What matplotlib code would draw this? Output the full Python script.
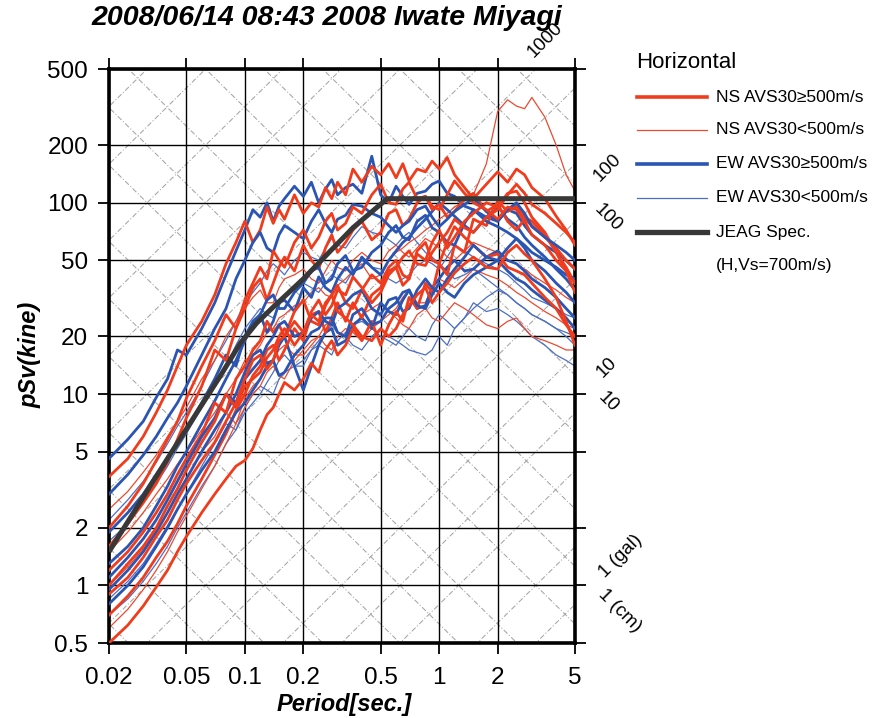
import numpy as np
import matplotlib.pyplot as plt
from matplotlib.lines import Line2D
from matplotlib.ticker import FixedLocator, FixedFormatter, NullLocator

plt.rcParams['font.family'] = ['Liberation Sans', 'DejaVu Sans']

W, H = 893, 718

# periods [sec] shared by all spectra
periods = [0.02, 0.025, 0.03, 0.035, 0.04, 0.045, 0.05, 0.06, 0.07, 0.08, 0.09,
           0.1, 0.11, 0.12, 0.13, 0.14, 0.15, 0.16, 0.18, 0.2, 0.22,
           0.24, 0.26, 0.28, 0.3, 0.33, 0.36, 0.4, 0.45, 0.5, 0.55,
           0.6, 0.65, 0.7, 0.77, 0.85, 0.92, 1.0, 1.1, 1.2, 1.35,
           1.5, 1.75, 2.0, 2.25, 2.5, 2.75, 3.0, 3.5, 4.0, 4.5, 5.0]

# NS, AVS30 >= 500 m/s (thick red), pSv [kine]
ns_hard = [
    [3.7, 4.6, 6.0, 8.0, 10.5, 14, 18, 24, 33, 48, 62,
     80, 62, 72, 95, 78, 92, 82, 110, 88, 100, 95, 120, 105, 128, 110,
     150, 128, 155, 140, 160, 135, 160, 130, 150, 145, 165, 150, 172, 140, 120,
     105, 125, 145, 128, 150, 140, 120, 105, 85, 72, 60],
    [1.6, 2.1, 2.7, 3.4, 4.4, 5.8, 7.5, 11, 17, 15, 22,
     28, 36, 40, 31, 38, 46, 52, 44, 60, 50, 45, 58, 68, 55, 62,
     72, 80, 64, 70, 88, 92, 76, 82, 100, 108, 92, 98, 84, 90, 105,
     112, 90, 98, 80, 72, 82, 76, 66, 58, 50, 45],
    [0.5, 0.62, 0.78, 0.98, 1.2, 1.5, 1.8, 2.4, 3.0, 3.6, 4.2,
     4.5, 5.2, 6.5, 7.8, 8.5, 10, 11.5, 10.5, 12, 14.5, 13, 17, 19, 16, 18,
     22, 19, 24, 18, 23, 27, 24, 32, 28, 38, 34, 48, 42, 60, 55,
     82, 76, 102, 90, 96, 84, 80, 68, 55, 46, 38],
    [0.7, 0.88, 1.1, 1.4, 1.7, 2.1, 2.6, 3.6, 4.8, 6.2, 8.2,
     10, 12.5, 14, 17, 18, 15, 17, 22, 19, 26, 27, 21, 25, 30, 24,
     30, 25, 33, 36, 44, 46, 37, 40, 54, 50, 62, 72, 58, 66, 80,
     88, 100, 95, 112, 115, 100, 84, 70, 55, 44, 34],
    [1.2, 1.5, 1.9, 2.4, 3.0, 3.8, 4.6, 6.2, 9.0, 8.0, 12,
     14, 17, 19, 24, 21, 23, 20, 27, 31, 24, 23, 29, 33, 37, 30,
     28, 35, 42, 38, 46, 50, 42, 40, 56, 62, 50, 48, 62, 75, 66,
     60, 52, 54, 46, 44, 42, 38, 32, 28, 23, 20],
    [2.0, 2.6, 3.4, 4.5, 5.8, 7.2, 9.5, 14, 19, 26, 22,
     31, 38, 46, 40, 56, 50, 46, 62, 72, 58, 66, 80, 88, 72, 78,
     95, 88, 110, 125, 100, 98, 118, 128, 105, 108, 96, 92, 110, 130, 112,
     100, 92, 82, 95, 92, 80, 68, 60, 50, 44, 38],
    [0.9, 1.1, 1.4, 1.8, 2.2, 2.8, 3.4, 4.5, 5.6, 7.2, 9.0,
     12, 15, 16, 13.5, 15, 19, 20, 24, 21, 27, 31, 26, 29, 35, 33,
     41, 36, 30, 34, 42, 46, 52, 56, 48, 47, 55, 62, 70, 82, 74,
     70, 84, 92, 110, 125, 112, 98, 88, 78, 70, 62],
    [1.0, 1.3, 1.6, 2.0, 2.6, 3.2, 4.0, 5.6, 7.2, 10, 8.5,
     11, 12, 13, 15.5, 17, 20, 22, 18, 21, 26, 24, 30, 33, 27, 25,
     23, 20, 19, 22, 20, 22, 26, 29, 33, 36, 30, 34, 38, 43, 48,
     52, 46, 45, 55, 60, 54, 50, 40, 32, 24, 18],
]

# NS, AVS30 < 500 m/s (thin red)
ns_soft = [
    [1.5, 1.9, 2.4, 3.0, 3.6, 4.3, 5.0, 6.5, 8.0, 10, 12,
     15, 16, 18, 21, 22, 25, 26, 29, 30, 34, 36, 33, 32, 37, 40,
     44, 48, 40, 42, 50, 55, 58, 62, 66, 72, 76, 82, 88, 95, 102,
     110, 160, 300, 345, 320, 310, 355, 280, 200, 140, 115],
    [0.6, 0.75, 0.95, 1.2, 1.5, 1.9, 2.3, 3.2, 4.2, 5.5, 7.0,
     8.5, 10, 11, 13, 14, 12.5, 12, 15, 17, 19, 20, 23, 24, 21, 20,
     22, 26, 28, 30, 27, 25, 23, 22, 26, 28, 25, 24, 27, 30, 28,
     26, 23, 22, 24, 25, 22, 20, 19, 18, 17, 17],
    [2.5, 3.1, 3.9, 4.8, 6.0, 7.2, 8.5, 12, 15, 20, 24,
     28, 32, 35, 30, 30, 36, 40, 42, 45, 40, 38, 44, 50, 46, 44,
     50, 55, 50, 48, 56, 60, 55, 52, 58, 65, 62, 58, 52, 50, 56,
     62, 58, 55, 50, 48, 45, 42, 38, 35, 32, 30],
    [1.0, 1.25, 1.55, 1.95, 2.4, 3.0, 3.6, 5.0, 6.0, 8.0, 7.0,
     9.5, 11, 12, 13.5, 15, 17, 18, 16, 16, 18, 20, 18, 17, 20, 22,
     21, 19, 22, 24, 26, 28, 32, 35, 30, 30, 36, 40, 38, 36, 40,
     45, 42, 40, 37, 34, 32, 30, 27, 25, 23, 22],
]

# EW, AVS30 >= 500 m/s (thick blue)
ew_hard = [
    [4.6, 5.8, 7.2, 9.6, 12, 17, 16, 22, 30, 42, 56,
     72, 92, 84, 100, 80, 96, 105, 122, 108, 128, 100, 118, 132, 110, 120,
     125, 112, 175, 110, 100, 122, 108, 98, 112, 115, 125, 130, 112, 108, 96,
     92, 84, 80, 92, 88, 76, 68, 60, 55, 50, 45],
    [1.9, 2.4, 3.0, 3.8, 4.6, 5.5, 6.5, 9.0, 12, 16, 14,
     20, 24, 26, 21, 24, 30, 31, 27, 36, 32, 41, 36, 34, 40, 46,
     42, 52, 46, 42, 50, 56, 62, 66, 74, 82, 90, 100, 92, 85, 76,
     70, 84, 96, 82, 76, 66, 60, 52, 45, 40, 35],
    [0.95, 1.2, 1.5, 1.9, 2.4, 3.0, 3.6, 5.0, 6.5, 8.0, 10,
     13, 16, 17, 14.5, 15, 18, 20, 14, 10.5, 14, 18, 21, 22, 18, 19,
     23, 25, 22, 30, 27, 26, 31, 35, 28, 29, 36, 40, 46, 50, 44,
     45, 52, 56, 50, 48, 44, 40, 36, 32, 28, 25],
    [1.3, 1.6, 2.0, 2.6, 3.3, 4.2, 5.0, 7.0, 9.2, 12, 15,
     19, 23, 26, 31, 33, 28, 28, 34, 38, 44, 46, 38, 40, 48, 53,
     44, 46, 55, 60, 70, 76, 66, 64, 80, 86, 74, 70, 62, 60, 78,
     92, 80, 75, 70, 65, 60, 55, 50, 46, 42, 40],
    [0.8, 1.0, 1.25, 1.6, 2.0, 2.5, 3.0, 4.0, 5.0, 6.5, 8.0,
     9.0, 10.5, 12, 14, 15, 12.5, 13, 16, 18, 21, 22, 25, 25, 21, 20,
     26, 28, 23, 24, 28, 30, 34, 35, 29, 28, 33, 38, 34, 32, 38,
     42, 46, 50, 44, 40, 38, 35, 31, 28, 25, 22],
    [3.0, 3.8, 4.8, 6.0, 7.5, 9.0, 11, 16, 22, 28, 40,
     50, 62, 70, 58, 55, 68, 76, 70, 65, 80, 92, 78, 70, 82, 86,
     98, 96, 88, 84, 76, 70, 76, 80, 92, 96, 84, 75, 82, 90, 98,
     105, 90, 80, 92, 100, 88, 75, 66, 60, 55, 50],
    [1.1, 1.4, 1.75, 2.2, 2.8, 3.5, 4.3, 6.0, 7.5, 10, 9.0,
     12, 13.5, 15, 18, 20, 23, 24, 20, 21, 25, 27, 24, 23, 28, 30,
     33, 35, 28, 26, 31, 32, 27, 28, 35, 40, 36, 34, 40, 45, 52,
     60, 52, 50, 58, 65, 58, 50, 44, 38, 34, 30],
]

# EW, AVS30 < 500 m/s (thin blue)
ew_soft = [
    [0.7, 0.85, 1.05, 1.3, 1.6, 2.0, 2.4, 3.3, 4.2, 5.5, 6.5,
     8.0, 9.0, 10, 11.5, 13, 15, 16, 14, 14, 17, 19, 21, 23, 21, 20,
     18, 17, 20, 22, 20, 19, 18, 17, 16.5, 16, 17, 20, 18, 22, 25,
     30, 27, 28, 26, 24, 22, 20, 18, 16, 15, 14],
    [1.7, 2.1, 2.7, 3.4, 4.2, 5.2, 6.2, 8.5, 11, 14, 18,
     22, 25, 28, 26, 25, 29, 32, 35, 38, 36, 34, 38, 42, 40, 38,
     44, 50, 46, 45, 40, 38, 40, 42, 47, 50, 48, 45, 52, 60, 56,
     52, 48, 45, 42, 38, 35, 32, 30, 28, 26, 25],
    [2.2, 2.8, 3.5, 4.4, 5.5, 6.8, 8.0, 11, 15, 19, 24,
     30, 34, 38, 44, 48, 45, 42, 50, 55, 52, 50, 58, 65, 60, 58,
     66, 75, 70, 68, 64, 60, 66, 70, 62, 55, 52, 48, 44, 40, 42,
     45, 40, 36, 33, 30, 28, 26, 24, 22, 21, 20],
    [0.85, 1.05, 1.3, 1.65, 2.05, 2.5, 3.0, 4.2, 5.5, 7.0, 6.5,
     8.5, 10, 11, 10.5, 10, 12, 13, 14, 15, 17, 18, 17, 16, 19, 21,
     23, 24, 22, 20, 19, 18, 20, 22, 20, 19, 23, 26, 24, 22, 25,
     28, 32, 35, 33, 30, 28, 26, 24, 22, 20, 18],
]

# JEAG design spectrum (H, Vs=700m/s)
jeag_t = [0.02, 0.04, 0.075, 0.095, 0.115, 0.14, 0.2, 0.36, 0.54, 5.0]
jeag_sv = [1.5, 4.6, 12.5, 18.5, 23.5, 28.5, 40, 74, 105, 105]

x_ticks = [0.02, 0.05, 0.1, 0.2, 0.5, 1, 2, 5]
x_labels = ['0.02', '0.05', '0.1', '0.2', '0.5', '1', '2', '5']
y_ticks = [0.5, 1, 2, 5, 10, 20, 50, 100, 200, 500]
y_labels = ['0.5', '1', '2', '5', '10', '20', '50', '100', '200', '500']

# tripartite grid: acceleration [gal] and displacement [cm]
acc_grid = [m * 10 ** k for k in range(0, 6) for m in (1, 2, 5)]
disp_grid = [m * 10.0 ** k for k in range(-3, 3) for m in (1, 2, 5)]

c_red, c_red_thin = '#f03c1c', '#ea4a30'
c_blue, c_blue_thin = '#2b55b2', '#4c6fc4'
c_black = '#383838'


def fx(px):
    return px / W


def fy(py):
    return 1 - py / H


fig = plt.figure(figsize=(W / 100, H / 100), dpi=100)
ax = fig.add_axes([fx(109), fy(643), (575 - 109) / W, (643 - 69) / H])
ax.set_xscale('log')
ax.set_yscale('log')
ax.set_xlim(0.02, 5)
ax.set_ylim(0.5, 500)

# diagonal grid
tt = np.array([0.005, 20.0])
for a in acc_grid:
    ax.plot(tt, a * tt / (2 * np.pi), color='#a5a5a5', lw=0.75,
            ls=(0, (5, 2, 1, 2)), zorder=0.3)
for d in disp_grid:
    ax.plot(tt, 2 * np.pi * d / tt, color='#a5a5a5', lw=0.75,
            ls=(0, (5, 2, 1, 2)), zorder=0.3)

ax.grid(True, which='major', color='black', lw=1.0, zorder=0.5)
ax.set_axisbelow(True)

for sv in ew_soft:
    ax.plot(periods, sv, color=c_blue_thin, lw=0.9, zorder=2)
for sv in ns_soft:
    ax.plot(periods, sv, color=c_red_thin, lw=0.9, zorder=2)
for i in range(max(len(ns_hard), len(ew_hard))):
    if i < len(ew_hard):
        ax.plot(periods, ew_hard[i], color=c_blue, lw=2.0, zorder=3)
    if i < len(ns_hard):
        ax.plot(periods, ns_hard[i], color=c_red, lw=2.0, zorder=3)

ax.plot(jeag_t, jeag_sv, color=c_black, lw=3.6, zorder=4, solid_capstyle='butt')

ax.xaxis.set_major_locator(FixedLocator(x_ticks))
ax.xaxis.set_major_formatter(FixedFormatter(x_labels))
ax.yaxis.set_major_locator(FixedLocator(y_ticks))
ax.yaxis.set_major_formatter(FixedFormatter(y_labels))
ax.xaxis.set_minor_locator(NullLocator())
ax.yaxis.set_minor_locator(NullLocator())
ax.tick_params(which='major', direction='out', length=8, width=1.3,
               top=True, right=True, labelsize=17.5)
ax.tick_params(axis='x', pad=9)
ax.tick_params(axis='y', pad=7)
for s in ax.spines.values():
    s.set_linewidth(2.6)

bi = dict(fontweight='bold', style='italic')
fig.text(fx(327), fy(18), '2008/06/14 08:43 2008 Iwate Miyagi',
         fontsize=20.5, ha='center', va='center', **bi)
fig.text(fx(30), fy(355), 'pSv(kine)', fontsize=17, rotation=90,
         ha='center', va='center', **bi)
fig.text(fx(344), fy(704), 'Period[sec.]', fontsize=17,
         ha='center', va='center', **bi)

# diagonal scale labels
diag = [('1000', 545, 40, 45), ('100', 608, 168, 45), ('100', 608, 218, -45),
        ('10', 607, 367, 45), ('10', 608, 402, -45),
        ('1 (gal)', 621, 556, 45), ('1 (cm)', 620, 611, -45)]
for txt, px, py, rot in diag:
    fig.text(fx(px), fy(py), txt, fontsize=13.5, rotation=rot,
             rotation_mode='anchor', ha='center', va='center')

# legend
fig.text(fx(636), fy(63), 'Horizontal', fontsize=16, ha='left', va='center')
leg = [('NS AVS30\u2265500m/s', c_red, 2.6),
       ('NS AVS30<500m/s', c_red_thin, 0.9),
       ('EW AVS30\u2265500m/s', c_blue, 2.6),
       ('EW AVS30<500m/s', c_blue_thin, 0.9),
       ('JEAG Spec.', c_black, 3.8)]
rows = [97, 130, 164, 198, 232]
for (lab, col, lw), py in zip(leg, rows):
    fig.add_artist(Line2D([fx(637), fx(707)], [fy(py), fy(py)], color=col, lw=lw))
    fig.text(fx(716), fy(py), lab, fontsize=12.5, ha='left', va='center')
fig.text(fx(716), fy(266), '(H,Vs=700m/s)', fontsize=12.5, ha='left', va='center')

fig.savefig('out.png', dpi=100)
